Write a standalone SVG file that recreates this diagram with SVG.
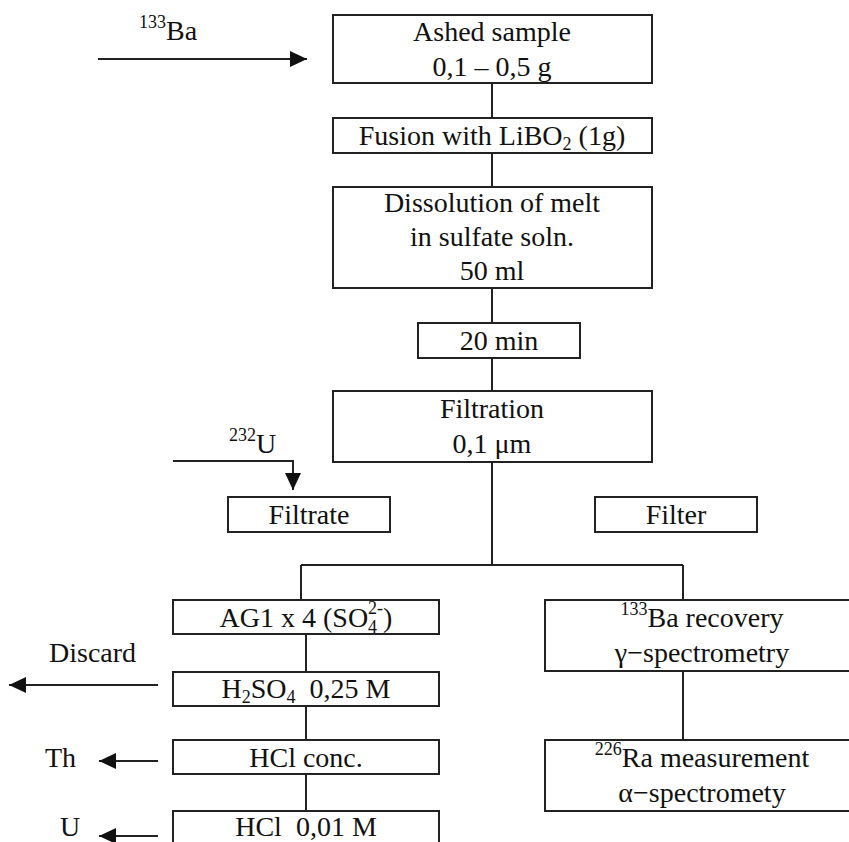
<svg xmlns="http://www.w3.org/2000/svg" width="849" height="842" viewBox="0 0 849 842">
<style>
text { font-family: "Liberation Serif", "Times New Roman", serif; font-size: 28px; fill: #111; }
.c { text-anchor: middle; }
.sm { font-size: 18px; }
.box { fill: #fff; stroke: #222; stroke-width: 2; }
.ln { fill: none; stroke: #222; stroke-width: 2; }
</style>
<defs>
<marker id="ah" markerUnits="userSpaceOnUse" markerWidth="17" markerHeight="16" refX="17" refY="8" orient="auto">
<path d="M0,0 L17,8 L0,16 z" fill="#111"/>
</marker>
</defs>
<rect width="849" height="842" fill="#fff"/>
<g id="connectors">
<path class="ln" d="M98,59 H307" marker-end="url(#ah)"/>
<path class="ln" d="M492,83 V118 M492,153 V187 M492,288 V323 M492,358 V391 M492,462 V565 M301,565 H683 M301,565 V600 M683,565 V600"/>
<path class="ln" d="M306,634 V672 M306,706 V740 M306,774 V811 M683,671 V740"/>
<path class="ln" d="M173,461 H293 V490" marker-end="url(#ah)"/>
<path class="ln" d="M158,685 H9" marker-end="url(#ah)"/>
<path class="ln" d="M158,761 H99" marker-end="url(#ah)"/>
<path class="ln" d="M158,836 H99" marker-end="url(#ah)"/>
</g>
<g id="label-ba133"><text x="139" y="40"><tspan class="sm" dy="-12">133</tspan><tspan dy="12">Ba</tspan></text></g>
<g id="ashed"><rect class="box" x="333" y="15" width="319" height="68"/>
<text class="c" x="492" y="41">Ashed sample</text><text class="c" x="492" y="76">0,1 – 0,5 g</text></g>
<g id="fusion"><rect class="box" x="333" y="118" width="319" height="35"/>
<text class="c" x="492" y="145">Fusion with LiBO<tspan class="sm" dy="5">2</tspan><tspan dy="-5"> (1g)</tspan></text></g>
<g id="dissolution"><rect class="box" x="333" y="187" width="319" height="101"/>
<text class="c" x="492" y="212">Dissolution of melt</text><text class="c" x="492" y="246">in sulfate soln.</text><text class="c" x="492" y="280">50 ml</text></g>
<g id="min20"><rect class="box" x="418" y="323" width="162" height="35"/>
<text class="c" x="499" y="350">20 min</text></g>
<g id="filtration"><rect class="box" x="333" y="391" width="319" height="71"/>
<text class="c" x="492" y="418">Filtration</text><text class="c" x="492" y="453">0,1 μm</text></g>
<g id="label-u232"><text x="229" y="453"><tspan class="sm" dy="-12">232</tspan><tspan dy="12">U</tspan></text></g>
<g id="filtrate"><rect class="box" x="228" y="497" width="162" height="35"/>
<text class="c" x="309" y="524">Filtrate</text></g>
<g id="filter"><rect class="box" x="595" y="497" width="162" height="35"/>
<text class="c" x="676" y="524">Filter</text></g>
<g id="ag1"><rect class="box" x="173" y="600" width="266" height="34"/>
<text class="c" x="306" y="627">AG1 x 4 (SO<tspan class="sm" dy="6">4</tspan><tspan class="sm" dx="-9" dy="-19">2-</tspan><tspan dy="13">)</tspan></text></g>
<g id="h2so4"><rect class="box" x="173" y="672" width="266" height="34"/>
<text class="c" x="306" y="698">H<tspan class="sm" dy="5">2</tspan><tspan dy="-5">SO</tspan><tspan class="sm" dy="5">4</tspan><tspan dx="14" dy="-5">0,25 M</tspan></text></g>
<g id="hclconc"><rect class="box" x="173" y="740" width="266" height="34"/>
<text class="c" x="306" y="767">HCl conc.</text></g>
<g id="hcl001"><rect class="box" x="173" y="811" width="266" height="50"/>
<text class="c" x="306" y="836">HCl<tspan dx="14">0,01 M</tspan></text></g>
<g id="label-discard"><text x="49" y="662">Discard</text></g>
<g id="label-th"><text x="45" y="767">Th</text></g>
<g id="label-u"><text x="60" y="836">U</text></g>
<g id="ba-recovery"><rect class="box" x="545" y="600" width="320" height="71"/>
<text class="c" x="702" y="627"><tspan class="sm" dy="-12">133</tspan><tspan dy="12">Ba recovery</tspan></text><text class="c" x="702" y="662">γ−spectrometry</text></g>
<g id="ra-measurement"><rect class="box" x="545" y="740" width="320" height="71"/>
<text class="c" x="702" y="767"><tspan class="sm" dy="-12">226</tspan><tspan dy="12">Ra measurement</tspan></text><text class="c" x="702" y="802">α−spectromety</text></g>
</svg>
